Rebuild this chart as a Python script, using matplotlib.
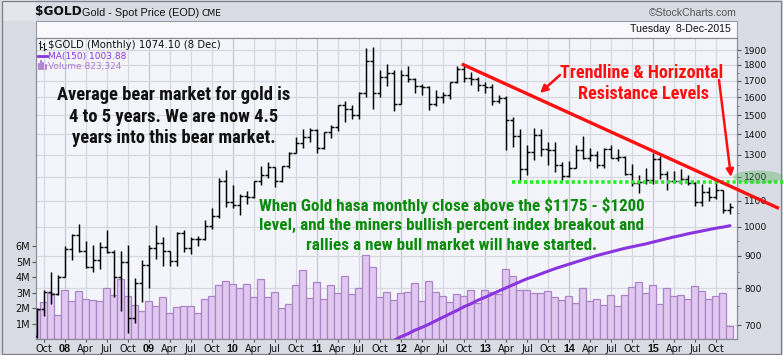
import matplotlib
matplotlib.use('Agg')
import matplotlib.pyplot as plt
import numpy as np
import pandas as pd
from matplotlib import font_manager as fm
from matplotlib.patches import Rectangle, Ellipse, FancyArrowPatch
from matplotlib.lines import Line2D
from matplotlib.transforms import blended_transform_factory
from matplotlib.ticker import NullFormatter

# ---------------- data ----------------
months = pd.date_range('2007-09-01', '2015-12-01', freq='MS')

opens = [672, 743, 789, 783,
         834, 923, 972, 916, 865, 886, 928, 913, 833, 880, 718, 814,
         869, 927, 942, 916, 883, 979, 926, 955, 955, 1004, 1040, 1182,
         1096, 1081, 1118, 1113, 1179, 1207, 1244, 1181, 1248, 1307, 1357, 1386,
         1421, 1332, 1410, 1439, 1556, 1536, 1502, 1628, 1828, 1624, 1722, 1746,
         1564, 1737, 1711, 1669, 1664, 1561, 1604, 1615, 1692, 1776, 1719, 1713,
         1675, 1664, 1579, 1596, 1476, 1393, 1234, 1312, 1396, 1327, 1323, 1250,
         1202, 1240, 1321, 1284, 1296, 1250, 1327, 1282, 1287, 1210, 1171, 1175,
         1184, 1279, 1213, 1183, 1183, 1190, 1172, 1095, 1133, 1115, 1142, 1064]
highs = [745, 795, 848, 838,
         932, 975, 1011, 950, 936, 945, 988, 920, 915, 936, 829, 888,
         936, 1005, 962, 917, 982, 990, 962, 967, 1025, 1070, 1195, 1227,
         1162, 1127, 1137, 1180, 1249, 1265, 1244, 1248, 1310, 1388, 1424, 1431,
         1424, 1413, 1448, 1557, 1577, 1555, 1632, 1913, 1921, 1764, 1803, 1764,
         1764, 1791, 1718, 1677, 1667, 1641, 1630, 1693, 1790, 1796, 1754, 1724,
         1694, 1678, 1616, 1606, 1488, 1424, 1348, 1433, 1424, 1361, 1362, 1267,
         1269, 1345, 1392, 1331, 1315, 1332, 1345, 1325, 1292, 1256, 1208, 1238,
         1307, 1293, 1224, 1224, 1232, 1205, 1175, 1170, 1157, 1191, 1142, 1089]
lows = [669, 724, 755, 781,
        834, 887, 914, 862, 850, 859, 910, 774, 736, 681, 705, 762,
        802, 891, 866, 866, 867, 913, 905, 933, 952, 993, 1034, 1075,
        1072, 1045, 1088, 1112, 1165, 1196, 1157, 1176, 1240, 1308, 1331, 1363,
        1309, 1325, 1381, 1417, 1462, 1478, 1480, 1600, 1535, 1600, 1670, 1523,
        1564, 1689, 1628, 1614, 1527, 1548, 1565, 1592, 1685, 1693, 1672, 1636,
        1627, 1555, 1565, 1321, 1338, 1180, 1208, 1275, 1293, 1251, 1221, 1185,
        1200, 1239, 1277, 1268, 1240, 1240, 1282, 1271, 1206, 1160, 1132, 1170,
        1167, 1190, 1142, 1171, 1170, 1162, 1077, 1080, 1098, 1108, 1052, 1046]
closes = [743, 789, 783, 834,
          923, 972, 916, 865, 886, 928, 913, 833, 880, 718, 814, 869,
          927, 942, 916, 883, 979, 926, 955, 955, 1004, 1040, 1182, 1096,
          1081, 1118, 1113, 1179, 1207, 1244, 1181, 1248, 1307, 1357, 1386, 1421,
          1332, 1410, 1439, 1556, 1536, 1502, 1628, 1828, 1624, 1722, 1746, 1564,
          1737, 1711, 1669, 1664, 1561, 1604, 1615, 1692, 1776, 1719, 1713, 1675,
          1664, 1579, 1596, 1476, 1393, 1234, 1312, 1396, 1327, 1323, 1250, 1202,
          1240, 1321, 1284, 1296, 1250, 1327, 1282, 1287, 1210, 1171, 1175, 1184,
          1279, 1213, 1183, 1183, 1190, 1172, 1095, 1133, 1115, 1142, 1064, 1074]
volume_m = [1.87, 2.39, 2.99, 1.53,
            3.16, 2.45, 3.08, 2.58, 2.52, 2.45, 3.27, 2.84, 3.85, 2.77, 2.17, 1.81,
            2.45, 2.13, 2.69, 1.68, 2.04, 2.13, 2.13, 1.68, 2.56, 2.77, 3.46, 3.78,
            3.53, 3.27, 3.53, 2.69, 3.85, 2.69, 3.01, 1.98, 2.24, 3.46, 4.43, 2.63,
            3.66, 2.56, 3.46, 2.95, 4.05, 2.88, 3.27, 5.40, 4.63, 2.69, 3.05, 2.49,
            2.95, 3.05, 3.59, 2.43, 3.72, 3.05, 2.75, 2.37, 2.88, 2.75, 3.20, 2.30,
            3.14, 3.05, 2.88, 4.50, 4.06, 3.14, 3.20, 2.99, 2.95, 3.08, 2.69, 2.49,
            2.75, 2.30, 3.27, 2.43, 2.56, 2.17, 2.82, 2.11, 2.82, 3.33, 3.66, 2.95,
            3.46, 2.24, 3.27, 2.75, 2.82, 2.56, 3.40, 3.08, 2.56, 2.75, 2.99, 0.82]
ma_first = 50  # month index where the MA(150) values below begin
ma150 = [655, 662, 671, 678, 687, 694, 702, 711, 720, 729,
         738, 748, 756, 766, 774, 783, 792, 801, 810, 819,
         828, 835, 843, 851, 859, 866, 873, 880, 887, 894,
         901, 907, 913, 919, 925, 930, 935, 940, 946, 952,
         958, 964, 969, 975, 980, 985, 990, 995, 999, 1004]
price_ticks = [700, 800, 900, 1000, 1100, 1200, 1300, 1400, 1500, 1600, 1700, 1800, 1900]
vol_ticks = [1, 2, 3, 4, 5, 6]
resistance_level = 1175
resistance_span = [67.9, 106.7]      # month index range
trend_idx = [60.7, 106.0]
trend_price = [1806, 1069]

# ---------------- fonts ----------------
avail = {f.name for f in fm.fontManager.ttflist}
def pick(*names):
    for n in names:
        if n in avail:
            return n
    return 'DejaVu Sans'
NARROW = pick('Liberation Sans Narrow', 'Roboto Condensed', 'Open Sans Condensed', 'Liberation Sans')
nscale = 1.0 if NARROW != 'Liberation Sans' else 0.84
ARIAL = pick('Liberation Sans', 'Arial')
VERD = 'DejaVu Sans'

W, H = 783, 355
fig = plt.figure(figsize=(W / 100, H / 100), dpi=100, facecolor='#d9dce5')

def P(x, y):
    return (x / W, 1 - y / H)

def ftext(x, y, s, **kw):
    return fig.text(*P(x, y), s, parse_math=False, **kw)

# outer shading
fig.add_artist(Rectangle(P(2, 21), 34 / W, 332 / H, transform=fig.transFigure,
                         facecolor='#e4e6ed', edgecolor='none', zorder=0))
fig.add_artist(Rectangle(P(1.5, 353.5), 779 / W, 352.5 / H, transform=fig.transFigure,
                         facecolor='none', edgecolor='#7c7f88', lw=0.9, zorder=0))

# header strip
fig.add_artist(Rectangle(P(36, 37.7), (737 - 36) / W, 16.7 / H, transform=fig.transFigure,
                         facecolor='#f9f9fc', edgecolor='#9a9ca4', lw=0.8))
ftext(731, 29.5, 'Tuesday  8-Dec-2015', ha='right', va='center',
      fontsize=7.6, family=ARIAL, color='#111')

# titles
ftext(35.5, 12, '$GOLD', ha='left', va='center', fontsize=8.7,
      family=VERD, weight='bold', color='#111')
ftext(82, 12.5, 'Gold - Spot Price (EOD)', ha='left', va='center',
      fontsize=7.8, family=ARIAL, color='#111')
ftext(201, 13, 'CME', ha='left', va='center', fontsize=6.6, family=VERD, color='#111')
ftext(737, 12.5, '\u00a9StockCharts.com', ha='right', va='center',
      fontsize=7.6, family=ARIAL, color='#555')

# ---------------- axes ----------------
left, right, top, bottom = 36, 737, 37.7, 339
rect = [left / W, 1 - bottom / H, (right - left) / W, (bottom - top) / H]
ax = fig.add_axes(rect)
vol = ax.twinx()
ax.yaxis.tick_right()
vol.yaxis.tick_left()
vol.yaxis.set_label_position('left')
ax.set_zorder(2)
vol.set_zorder(1)
ax.patch.set_visible(False)
vol.patch.set_visible(True)
vol.set_facecolor('#f4f5fa')

x = np.arange(len(months))
ax.set_xlim(-0.1, 100.0)
ax.set_yscale('log')
ax.set_ylim(665.4, 1987)
vol.set_ylim(0, 19.48)

# grid (drawn underneath the volume bars)
xt_pos, xt_lab = [], []
for i, m in enumerate(months):
    if m.month in (1, 4, 7, 10):
        xt_pos.append(i)
        xt_lab.append(m.strftime('%y') if m.month == 1 else m.strftime('%b'))
for p, lab in zip(xt_pos, xt_lab):
    vol.axvline(p, color='#c4c6d0' if lab.isdigit() else '#d6d8e0', lw=0.9, zorder=0)
btr = blended_transform_factory(vol.transAxes, ax.transData)
for lv in price_ticks:
    vol.plot([0, 1], [lv, lv], transform=btr, color='#d6d8e0', lw=0.9, zorder=0)

# volume bars
vol.bar(x, volume_m, width=1.0, color='#e0c8f0', edgecolor='#ab85c8', lw=0.9, zorder=2)

# OHLC bars
ax.vlines(x, lows, highs, color='black', lw=1.05, zorder=3)
ax.hlines(opens, x - 0.45, x, color='black', lw=1.05, zorder=3)
ax.hlines(closes, x, x + 0.45, color='black', lw=1.05, zorder=3)

# MA(150)
ma_x = np.arange(ma_first, ma_first + len(ma150))
ax.plot(ma_x, ma150, color='#8a35e0', lw=2.2, zorder=4, solid_capstyle='round')

# ticks
ax.set_yticks(price_ticks, labels=[str(v) for v in price_ticks])
ax.set_yticks(np.arange(700, 1950, 50), minor=True)
ax.yaxis.set_minor_formatter(NullFormatter())
ax.tick_params(axis='y', which='major', direction='out', length=3, width=0.8,
               color='#555', labelsize=6.6, pad=2, labelcolor='#111')
ax.tick_params(axis='y', which='minor', direction='out', length=1.5, width=0.6, color='#777')
for t in ax.get_yticklabels():
    t.set_family(VERD)

vol.set_yticks(vol_ticks, labels=[f'{v}M' for v in vol_ticks])
vol.tick_params(axis='y', direction='out', length=3, width=0.8, color='#555',
                labelsize=7, pad=1, labelcolor='#111')

ax.set_xticks(xt_pos, labels=xt_lab)
ax.tick_params(axis='x', direction='out', length=2, width=0.8, color='#555', pad=1.5,
               labelsize=7, labelcolor='#111')
for t in ax.get_xticklabels():
    if t.get_text().isdigit():
        t.set_fontweight('bold')
        t.set_family(ARIAL)
        t.set_fontsize(7.8)
    else:
        t.set_family(VERD)

for a in (ax, vol):
    for s in a.spines.values():
        s.set_color('#8a8c94')
        s.set_linewidth(0.8)

# legend inside the plot
def pline(xs, ys, **kw):
    fig.add_artist(Line2D([xx / W for xx in xs], [1 - yy / H for yy in ys],
                          transform=fig.transFigure, **kw))
pline([40, 40], [41, 49], color='#222', lw=0.8)
pline([38.5, 40], [43, 43], color='#222', lw=0.8)
pline([40, 41.5], [47, 47], color='#222', lw=0.8)
pline([44, 44], [43, 50], color='#222', lw=0.8)
pline([42.5, 44], [44, 44], color='#222', lw=0.8)
pline([44, 45.5], [49, 49], color='#222', lw=0.8)
ftext(48, 45.5, '$GOLD (Monthly) 1074.10 (8 Dec)', ha='left', va='center',
      fontsize=7.3, family=VERD, color='#111')
pline([38, 46.5], [56.3, 56.3], color='#8a35e0', lw=2.0)
ftext(48.5, 56.5, 'MA(150) 1003.88', ha='left', va='center',
      fontsize=6.5, family=VERD, color='#8a35e0')
for bx, bh in [(39, 5), (41.2, 8), (43.4, 6), (45.6, 4)]:
    pline([bx, bx], [69, 69 - bh], color='#b07ad8', lw=1.3)
ftext(48.5, 66.5, 'Volume 823,324', ha='left', va='center',
      fontsize=6.5, family=VERD, color='#b07ad8')

# ---------------- annotations ----------------
ax.plot(resistance_span, [resistance_level, resistance_level], color='#22ee22', lw=2.6,
        ls=(0, (0.9, 0.75)), clip_on=False, zorder=6)
ax.plot(trend_idx, trend_price, color='#ff1010', lw=2.4, clip_on=False, zorder=7,
        solid_capstyle='butt')

fig.add_artist(Ellipse(P(758, 177), 50 / W, 13 / H, transform=fig.transFigure,
                       facecolor='#4caf4c', edgecolor='none', alpha=0.35, zorder=5))

bear = ['Average bear market for gold is', '4 to 5 years. We are now 4.5',
        'years into this bear market.']
for k, line in enumerate(bear):
    ftext(174, 95 + k * 21.7, line, ha='center', va='center',
          fontsize=13.3 * nscale, family=NARROW, weight='bold', color='#111', zorder=10)

green = ['When Gold hasa monthly close above the $1175 - $1200',
         'level, and the miners bullish percent index breakout and',
         'rallies a new bull market will have started.']
for k, line in enumerate(green):
    ftext(452, 205.5 + k * 20, line, ha='center', va='center',
          fontsize=12.3 * nscale, family=NARROW, weight='bold', color='#0a8a0a', zorder=10)

ftext(642, 73, 'Trendline & Horizontal', ha='center', va='center',
      fontsize=13.1 * nscale, family=NARROW, weight='bold', color='#ff1010', zorder=10)
ftext(643, 94, 'Resistance Levels', ha='center', va='center',
      fontsize=13.1 * nscale, family=NARROW, weight='bold', color='#ff1010', zorder=10)

for a_from, a_to in [((560, 75), (540, 93)), ((719, 80), (731, 177))]:
    fig.add_artist(FancyArrowPatch(P(*a_from), P(*a_to), transform=fig.transFigure,
                                   arrowstyle='-|>', mutation_scale=11, color='#ff1010',
                                   lw=1.8, shrinkA=0, shrinkB=0, zorder=10))

fig.savefig('out.png', dpi=100, facecolor=fig.get_facecolor())
